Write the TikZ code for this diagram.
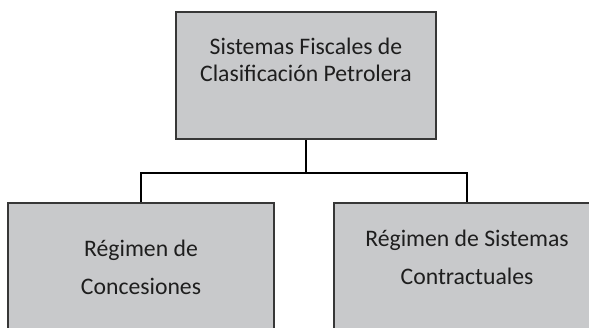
\documentclass[tikz,border=0pt]{standalone}
\usepackage{fontspec}
\setmainfont{Carlito}
\usepackage{tikz}
\definecolor{boxgray}{RGB}{200,201,203}
\definecolor{edgegray}{RGB}{55,55,55}
\definecolor{textgray}{RGB}{30,30,30}
\tikzstyle{bigcell} = [rectangle, draw=edgegray, line width=1.6pt, fill=boxgray, minimum width=260pt, minimum height=127pt, inner sep=0pt]
\tikzstyle{cell} = [rectangle, draw=edgegray, line width=1.6pt, fill=boxgray, minimum width=266pt, minimum height=127pt, inner sep=0pt]
\tikzstyle{toptext} = [align=center, text=textgray, inner sep=0pt, anchor=base, font=\fontsize{23.7}{27}\selectfont]
\tikzstyle{celltext} = [align=center, text=textgray, inner sep=0pt, anchor=base, font=\fontsize{23.7}{37.5}\selectfont]
\tikzstyle{line} = [draw, line width=2.2pt]

\begin{document}
\begin{tikzpicture}[x=1pt, y=1pt]
    \useasboundingbox (0,0) rectangle (589,-327);
    \node[bigcell](top) at (306,-75.5){};
    \node[cell](left) at (141,-266.5){};
    \node[cell](right) at (467,-266.5){};
    \coordinate (split) at (306,-173);

    % base anchor sits on the last line
    \node[toptext](toplabel) at ([yshift=-70pt]top.north) {Sistemas Fiscales de\\Clasificación Petrolera};
    \node[celltext](leftlabel) at ([yshift=-92pt]left.north) {Régimen de\\Concesiones};
    \node[celltext](rightlabel) at ([yshift=-82pt]right.north) {Régimen de Sistemas\\Contractuales};

    \path[line] (top) -- (split);
    \path[line] (split) -| (left);
    \path[line] (split) -| (right);
\end{tikzpicture}
\end{document}
